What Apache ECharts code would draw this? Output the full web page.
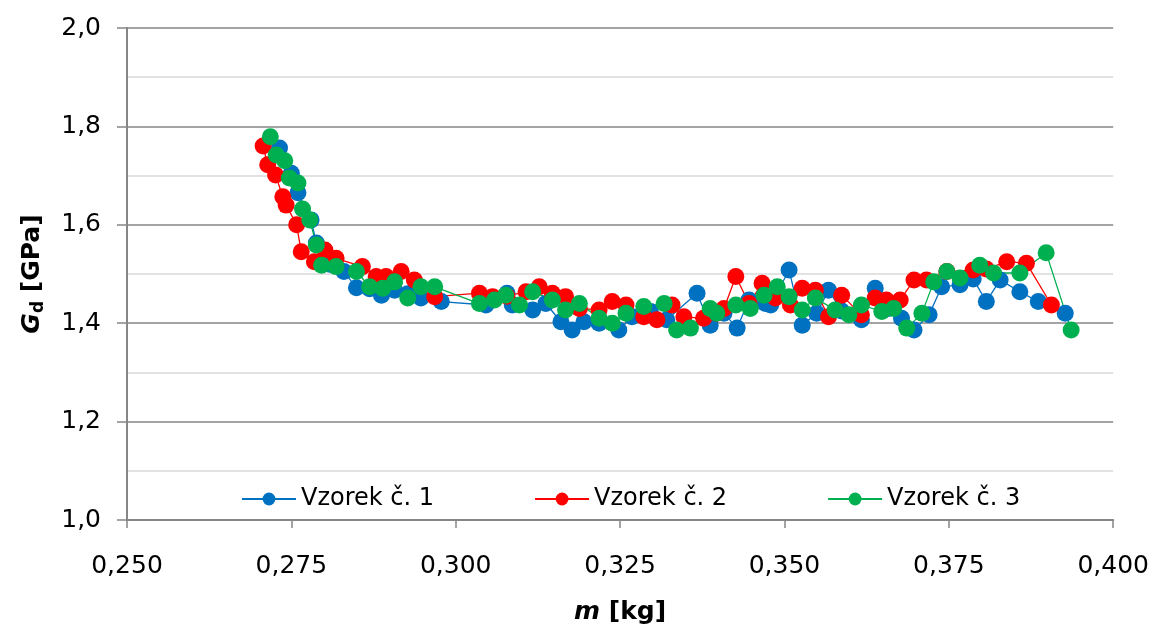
<!DOCTYPE html>
<html>
<head>
<meta charset="utf-8">
<script src="https://cdn.jsdelivr.net/npm/echarts@6/dist/echarts.min.js"></script>
<style>
  html, body { margin: 0; padding: 0; background: #fff; }
  #chart { width: 1152px; height: 633px; }
</style>
</head>
<body>
<div id="chart"></div>
<script>
// [m kg, Gd GPa]
const vzorek1 = [
  [0.2732, 1.756], [0.2750, 1.705], [0.2760, 1.665], [0.2780, 1.610], [0.2788, 1.563],
  [0.2808, 1.520], [0.2830, 1.505], [0.2849, 1.472], [0.2869, 1.470], [0.2887, 1.457],
  [0.2907, 1.467], [0.2927, 1.460], [0.2947, 1.451], [0.2978, 1.444], [0.3046, 1.437],
  [0.3078, 1.461], [0.3086, 1.437], [0.3117, 1.427], [0.3137, 1.440], [0.3160, 1.403],
  [0.3177, 1.386], [0.3195, 1.403], [0.3218, 1.400], [0.3248, 1.386], [0.3268, 1.413],
  [0.3296, 1.424], [0.3321, 1.407], [0.3367, 1.461], [0.3387, 1.396], [0.3408, 1.420],
  [0.3428, 1.390], [0.3446, 1.447], [0.3471, 1.440], [0.3479, 1.437], [0.3507, 1.508],
  [0.3527, 1.396], [0.3549, 1.420], [0.3567, 1.467], [0.3587, 1.425], [0.3617, 1.407],
  [0.3638, 1.471], [0.3658, 1.430], [0.3678, 1.410], [0.3697, 1.386], [0.3720, 1.417],
  [0.3739, 1.474], [0.3767, 1.478], [0.3787, 1.490], [0.3807, 1.444], [0.3828, 1.488],
  [0.3858, 1.464], [0.3886, 1.444], [0.3927, 1.420]
];
const vzorek2 = [
  [0.2707, 1.760], [0.2714, 1.722], [0.2726, 1.701], [0.2737, 1.657], [0.2742, 1.640],
  [0.2758, 1.600], [0.2765, 1.545], [0.2785, 1.525], [0.2801, 1.549], [0.2818, 1.532],
  [0.2858, 1.515], [0.2879, 1.495], [0.2894, 1.495], [0.2917, 1.505], [0.2937, 1.488],
  [0.2968, 1.454], [0.3036, 1.461], [0.3056, 1.454], [0.3078, 1.455], [0.3107, 1.464],
  [0.3127, 1.474], [0.3147, 1.461], [0.3167, 1.454], [0.3188, 1.430], [0.3218, 1.427],
  [0.3238, 1.444], [0.3259, 1.437], [0.3286, 1.413], [0.3306, 1.407], [0.3329, 1.437],
  [0.3347, 1.413], [0.3377, 1.410], [0.3397, 1.420], [0.3408, 1.430], [0.3426, 1.495],
  [0.3446, 1.440], [0.3466, 1.481], [0.3486, 1.451], [0.3509, 1.437], [0.3527, 1.471],
  [0.3547, 1.467], [0.3567, 1.413], [0.3587, 1.457], [0.3617, 1.417], [0.3638, 1.451],
  [0.3655, 1.447], [0.3676, 1.447], [0.3697, 1.488], [0.3716, 1.488], [0.3747, 1.505],
  [0.3787, 1.508], [0.3807, 1.510], [0.3838, 1.525], [0.3868, 1.522], [0.3906, 1.437]
];
const vzorek3 = [
  [0.2718, 1.779], [0.2727, 1.742], [0.2740, 1.730], [0.2747, 1.695], [0.2760, 1.685],
  [0.2767, 1.632], [0.2778, 1.610], [0.2788, 1.559], [0.2796, 1.518], [0.2818, 1.515],
  [0.2849, 1.505], [0.2869, 1.474], [0.2889, 1.471], [0.2907, 1.484], [0.2927, 1.451],
  [0.2947, 1.474], [0.2968, 1.474], [0.3036, 1.440], [0.3059, 1.447], [0.3076, 1.457],
  [0.3097, 1.437], [0.3117, 1.464], [0.3147, 1.447], [0.3167, 1.427], [0.3188, 1.440],
  [0.3218, 1.410], [0.3238, 1.400], [0.3259, 1.420], [0.3286, 1.434], [0.3317, 1.440],
  [0.3336, 1.386], [0.3357, 1.390], [0.3387, 1.430], [0.3397, 1.420], [0.3426, 1.437],
  [0.3448, 1.430], [0.3469, 1.457], [0.3489, 1.474], [0.3507, 1.454], [0.3527, 1.427],
  [0.3547, 1.451], [0.3577, 1.427], [0.3598, 1.417], [0.3617, 1.437], [0.3648, 1.424],
  [0.3666, 1.430], [0.3686, 1.390], [0.3709, 1.420], [0.3727, 1.484], [0.3747, 1.505],
  [0.3767, 1.492], [0.3797, 1.518], [0.3818, 1.502], [0.3858, 1.502], [0.3898, 1.543],
  [0.3936, 1.386]
];
const nazvy = ['Vzorek č. 1', 'Vzorek č. 2', 'Vzorek č. 3'];
const barvy = ['#0070C0', '#FF0000', '#00B050'];

const font = 'DejaVu Sans';
const osa = '#868686';

const serie = (name, data, color) => ({
  name: name,
  type: 'line',
  data: data,
  symbol: 'circle',
  symbolSize: 17,
  color: color,
  lineStyle: { width: 1.3, color: color },
  itemStyle: { color: color },
  animation: false
});

const option = {
  backgroundColor: '#fff',
  grid: { left: 127, right: 37, top: 28, bottom: 113 },
  legend: {
    data: nazvy,
    left: 236,
    top: 482,
    itemWidth: 54,
    itemHeight: 16,
    itemGap: 100,
    textStyle: { fontFamily: font, fontSize: 24, color: '#000' }
  },
  xAxis: {
    type: 'value',
    min: 0.25,
    max: 0.4,
    interval: 0.025,
    name: '{i|m}{b| [kg]}',
    nameLocation: 'middle',
    nameGap: 80,
    nameTextStyle: {
      rich: {
        i: { fontFamily: font, fontSize: 25, fontWeight: 'bold', fontStyle: 'italic', color: '#000' },
        b: { fontFamily: font, fontSize: 25, fontWeight: 'bold', color: '#000' }
      }
    },
    axisLine: { lineStyle: { color: osa, width: 2 } },
    axisTick: { show: true, length: 8, lineStyle: { color: osa, width: 1.5 } },
    axisLabel: {
      fontFamily: font, fontSize: 25, color: '#000', margin: 34,
      formatter: v => v.toFixed(3).replace('.', ',')
    },
    splitLine: { show: false }
  },
  yAxis: {
    type: 'value',
    min: 1,
    max: 2,
    interval: 0.2,
    name: '{i|G}{s|d}{b| [GPa]}',
    nameLocation: 'middle',
    nameGap: 80,
    nameRotate: 90,
    nameTextStyle: {
      rich: {
        i: { fontFamily: font, fontSize: 25, fontWeight: 'bold', fontStyle: 'italic', color: '#000', lineHeight: 30 },
        s: { fontFamily: font, fontSize: 17, fontWeight: 'bold', color: '#000', verticalAlign: 'bottom', lineHeight: 20 },
        b: { fontFamily: font, fontSize: 25, fontWeight: 'bold', color: '#000', lineHeight: 30 }
      }
    },
    axisLine: { show: true, lineStyle: { color: osa, width: 2 } },
    axisTick: { show: true, length: 10, lineStyle: { color: osa, width: 1.5 } },
    axisLabel: {
      fontFamily: font, fontSize: 25, color: '#000', margin: 26,
      formatter: v => v.toFixed(1).replace('.', ',')
    },
    splitLine: { show: true, lineStyle: { color: osa, width: 1.5 } },
    minorTick: { show: false, splitNumber: 2 },
    minorSplitLine: { show: true, lineStyle: { color: '#d9d9d9', width: 1.5 } }
  },
  series: [
    serie(nazvy[0], vzorek1, barvy[0]),
    serie(nazvy[1], vzorek2, barvy[1]),
    serie(nazvy[2], vzorek3, barvy[2])
  ]
};

const chart = echarts.init(document.getElementById('chart'));
chart.setOption(option);
</script>
</body>
</html>
